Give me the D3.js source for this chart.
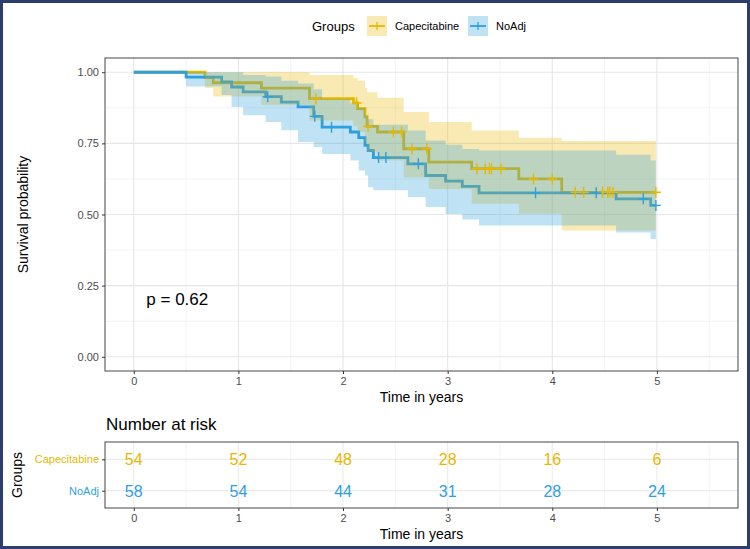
<!DOCTYPE html>
<html>
<head>
<meta charset="utf-8">
<script src="https://cdn.jsdelivr.net/npm/d3@7"></script>
<style>
  body { margin: 0; background: #fff; }
  text { font-family: "Liberation Sans", Arial, sans-serif; }
</style>
</head>
<body>
<script>
// groups and colours
var groups = ["Capecitabine", "NoAdj"];
var colors = {Capecitabine: "#E7B800", NoAdj: "#2E9FDF"};

// Capecitabine curve (time, survival, upper, lower)
var capeTime  = [0, 0.68, 0.76, 1.22, 1.68, 2.10, 2.14, 2.21, 2.23, 2.33, 2.58, 2.82, 3.23, 3.68, 4.09, 4.99];
var capeSurv  = [1, 0.981, 0.963, 0.944, 0.907, 0.892, 0.872, 0.843, 0.81, 0.79, 0.731, 0.684, 0.661, 0.625, 0.578, 0.578];
var capeUpper = [1, 1, 1, 1, 0.99, 0.98, 0.97, 0.945, 0.93, 0.91, 0.86, 0.825, 0.795, 0.77, 0.758, 0.758];
var capeLower = [1, 0.945, 0.915, 0.885, 0.83, 0.81, 0.79, 0.755, 0.72, 0.69, 0.63, 0.59, 0.538, 0.503, 0.444, 0.444];
var capeCensor = [1.74, 2.13, 2.24, 2.48, 2.56, 2.66, 2.80, 3.28, 3.36, 3.40, 3.42, 3.51, 3.82, 4.00, 4.22, 4.30, 4.48, 4.53, 4.55, 4.58, 4.99];

// NoAdj curve
var noTime  = [0, 0.50, 0.84, 0.935, 1.045, 1.26, 1.41, 1.57, 1.72, 1.80, 2.07, 2.15, 2.21, 2.24, 2.29, 2.62, 2.79, 2.98, 3.14, 3.30, 4.61, 4.94, 4.99];
var noSurv  = [1, 0.983, 0.966, 0.948, 0.931, 0.914, 0.895, 0.878, 0.845, 0.807, 0.79, 0.77, 0.743, 0.725, 0.70, 0.678, 0.637, 0.617, 0.599, 0.576, 0.555, 0.532, 0.532];
var noUpper = [1, 1, 1, 1, 0.99, 0.985, 0.97, 0.96, 0.94, 0.905, 0.89, 0.875, 0.85, 0.835, 0.815, 0.795, 0.76, 0.745, 0.73, 0.725, 0.71, 0.69, 0.69];
var noLower = [1, 0.95, 0.92, 0.878, 0.849, 0.825, 0.796, 0.755, 0.737, 0.713, 0.69, 0.655, 0.637, 0.596, 0.585, 0.561, 0.526, 0.502, 0.482, 0.461, 0.437, 0.414, 0.414];
var noCensor = [1.28, 1.73, 1.89, 2.34, 2.41, 2.72, 3.84, 4.42, 4.87, 4.99];

// number at risk
var riskTimes = [0, 1, 2, 3, 4, 5];
var riskCape = [54, 52, 48, 28, 16, 6];
var riskNoAdj = [58, 54, 44, 31, 28, 24];

var xTicks = [0, 1, 2, 3, 4, 5];
var yTicks = [0, 0.25, 0.5, 0.75, 1];
var pText = "p = 0.62";

function build(t, s, u, l) {
  return t.map(function(d, i) { return {t: d, s: s[i], u: u[i], l: l[i]}; });
}
var curves = [
  {name: "Capecitabine", pts: build(capeTime, capeSurv, capeUpper, capeLower), cens: capeCensor},
  {name: "NoAdj", pts: build(noTime, noSurv, noUpper, noLower), cens: noCensor}
];

var W = 750, H = 549;
var svg = d3.select("body").append("svg").attr("width", W).attr("height", H);

var L = 105, R = 738, T = 58, B = 371;
var x = d3.scaleLinear().domain([-0.275, 5.775]).range([L, R]);
var y = d3.scaleLinear().domain([-0.05, 1.05]).range([B, T]);

// grid
var g = svg.append("g");
g.selectAll(".vmin").data(d3.range(0.5, 6, 1)).enter().append("line")
  .attr("x1", x).attr("x2", x).attr("y1", T).attr("y2", B)
  .attr("stroke", "#ebebeb").attr("stroke-width", 0.6);
g.selectAll(".hmin").data(d3.range(0.125, 1.1, 0.25)).enter().append("line")
  .attr("y1", y).attr("y2", y).attr("x1", L).attr("x2", R)
  .attr("stroke", "#ebebeb").attr("stroke-width", 0.6);
g.selectAll(".vmaj").data(xTicks).enter().append("line")
  .attr("x1", x).attr("x2", x).attr("y1", T).attr("y2", B)
  .attr("stroke", "#e6e6e6").attr("stroke-width", 1.1);
g.selectAll(".hmaj").data(yTicks).enter().append("line")
  .attr("y1", y).attr("y2", y).attr("x1", L).attr("x2", R)
  .attr("stroke", "#e6e6e6").attr("stroke-width", 1.1);

var line = d3.line().x(function(d) { return x(d.t); }).y(function(d) { return y(d.s); }).curve(d3.curveStepAfter);
var area = d3.area().x(function(d) { return x(d.t); })
  .y0(function(d) { return y(d.l); }).y1(function(d) { return y(d.u); }).curve(d3.curveStepAfter);

curves.forEach(function(c) {
  svg.append("path").attr("d", line(c.pts)).attr("fill", "none")
    .attr("stroke", colors[c.name]).attr("stroke-width", 2.8);
});
curves.forEach(function(c) {
  svg.append("path").attr("d", area(c.pts)).attr("fill", colors[c.name]).attr("fill-opacity", 0.3);
});
// censor marks
curves.forEach(function(c) {
  var stepY = function(t) {
    var v = c.pts[0].s;
    c.pts.forEach(function(p) { if (p.t <= t) v = p.s; });
    return v;
  };
  c.cens.forEach(function(t) {
    var cx = x(t), cy = y(stepY(t));
    svg.append("path").attr("d", "M" + (cx - 5) + "," + cy + "H" + (cx + 5) + "M" + cx + "," + (cy - 5.5) + "V" + (cy + 5.5))
      .attr("stroke", colors[c.name]).attr("stroke-width", 1.4).attr("fill", "none");
  });
});

svg.append("rect").attr("x", L).attr("y", T).attr("width", R - L).attr("height", B - T)
  .attr("fill", "none").attr("stroke", "#333").attr("stroke-width", 0.9);

// axes
var xa = svg.append("g").attr("transform", "translate(0," + B + ")")
  .call(d3.axisBottom(x).tickValues(xTicks).tickSize(3).tickPadding(3).tickFormat(d3.format("d")));
var ya = svg.append("g").attr("transform", "translate(" + L + ",0)")
  .call(d3.axisLeft(y).tickValues(yTicks).tickSize(3).tickPadding(3).tickFormat(d3.format(".2f")));
[xa, ya].forEach(function(a) {
  a.select(".domain").remove();
  a.selectAll("line").attr("stroke", "#333");
  a.selectAll("text").attr("fill", "#4d4d4d").style("font-size", "11px").style("font-family", "Liberation Sans");
});

svg.append("text").attr("x", (L + R) / 2).attr("y", 402).attr("text-anchor", "middle")
  .style("font-size", "14px").text("Time in years");
svg.append("text").attr("transform", "translate(28," + ((T + B) / 2) + ") rotate(-90)")
  .attr("text-anchor", "middle").style("font-size", "14px").text("Survival probability");
svg.append("text").attr("x", x(0.12)).attr("y", 305).style("font-size", "17px").text(pText);

// legend
var lg = svg.append("g");
lg.append("text").attr("x", 312).attr("y", 31).style("font-size", "13px").text("Groups");
var legX = [367, 468];
groups.forEach(function(n, i) {
  var kx = legX[i];
  lg.append("rect").attr("x", kx).attr("y", 16).attr("width", 20).attr("height", 20)
    .attr("fill", colors[n]).attr("fill-opacity", 0.3);
  lg.append("line").attr("x1", kx + 2).attr("x2", kx + 18).attr("y1", 26).attr("y2", 26)
    .attr("stroke", colors[n]).attr("stroke-width", 1.8);
  lg.append("line").attr("x1", kx + 10).attr("x2", kx + 10).attr("y1", 22).attr("y2", 30)
    .attr("stroke", colors[n]).attr("stroke-width", 1.3);
  lg.append("text").attr("x", kx + 28).attr("y", 30).style("font-size", "11px").text(n);
});

// risk table
var rT = 442, rB = 508;
var ry = d3.scalePoint().domain(groups).range([rT, rB]).padding(0.55);
var rt = svg.append("g");
rt.selectAll(".rv").data(d3.range(0, 6, 0.5)).enter().append("line")
  .attr("x1", x).attr("x2", x).attr("y1", rT).attr("y2", rB)
  .attr("stroke", "#ebebeb").attr("stroke-width", function(d) { return d % 1 === 0 ? 1.1 : 0.6; });
rt.selectAll(".rh").data(groups).enter().append("line")
  .attr("y1", ry).attr("y2", ry).attr("x1", L).attr("x2", R)
  .attr("stroke", "#e6e6e6").attr("stroke-width", 1.1);
var riskData = {Capecitabine: riskCape, NoAdj: riskNoAdj};
groups.forEach(function(n) {
  rt.selectAll(".n" + n).data(riskData[n]).enter().append("text")
    .attr("x", function(d, i) { return x(riskTimes[i]); })
    .attr("y", ry(n) + 6).attr("text-anchor", "middle")
    .attr("fill", colors[n]).style("font-size", "16px").text(function(d) { return d; });
});
rt.append("rect").attr("x", L).attr("y", rT).attr("width", R - L).attr("height", rB - rT)
  .attr("fill", "none").attr("stroke", "#333").attr("stroke-width", 0.9);
var rxa = svg.append("g").attr("transform", "translate(0," + rB + ")")
  .call(d3.axisBottom(x).tickValues(xTicks).tickSize(3).tickPadding(3).tickFormat(d3.format("d")));
var rya = svg.append("g").attr("transform", "translate(" + L + ",0)")
  .call(d3.axisLeft(ry).tickSize(3).tickPadding(3));
[rxa, rya].forEach(function(a) {
  a.select(".domain").remove();
  a.selectAll("line").attr("stroke", "#333");
  a.selectAll("text").attr("fill", "#4d4d4d").style("font-size", "11px").style("font-family", "Liberation Sans");
});
rya.selectAll("text").attr("fill", function(d) { return colors[d]; });
svg.append("text").attr("x", L + 1).attr("y", 430).style("font-size", "17px").text("Number at risk");
svg.append("text").attr("x", (L + R) / 2).attr("y", 539).attr("text-anchor", "middle")
  .style("font-size", "14px").text("Time in years");
svg.append("text").attr("transform", "translate(22," + ((rT + rB) / 2) + ") rotate(-90)")
  .attr("text-anchor", "middle").style("font-size", "14px").text("Groups");

// outer frame
svg.append("rect").attr("x", 1.5).attr("y", 1.5).attr("width", W - 3).attr("height", H - 3)
  .attr("fill", "none").attr("stroke", "#2c3d6e").attr("stroke-width", 3);
</script>
</body>
</html>
